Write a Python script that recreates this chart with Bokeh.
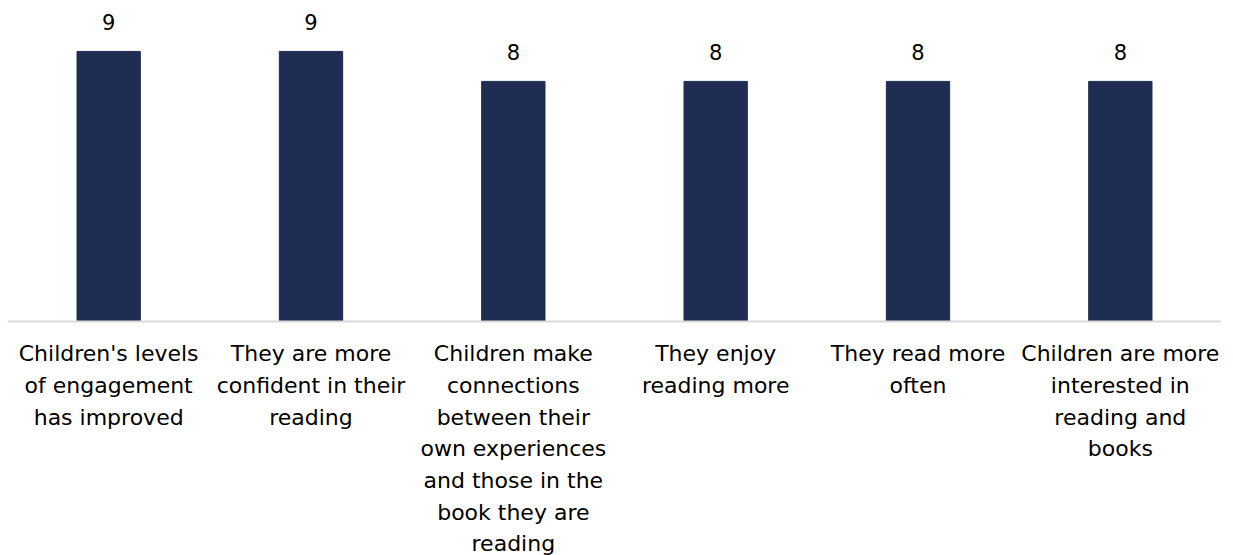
from bokeh.plotting import figure
from bokeh.models import FactorRange, Range1d, Span, ColumnDataSource
from bokeh.core.properties import value
from bokeh.embed import file_html
from bokeh.resources import INLINE

categories = [
    "Children's levels\nof engagement\nhas improved",
    "They are more\nconfident in their\nreading",
    "Children make\nconnections\nbetween their\nown experiences\nand those in the\nbook they are\nreading",
    "They enjoy\nreading more",
    "They read more\noften",
    "Children are more\ninterested in\nreading and\nbooks",
]
values = [9, 9, 8, 8, 8, 8]
value_labels = [str(v) for v in values]

src = ColumnDataSource(dict(cat=categories, val=values, lab=value_labels, zero=[0] * len(values)))

p = figure(
    x_range=FactorRange(*categories, range_padding=0),
    y_range=Range1d(-7.8, 10.43),
    width=1221, height=555,
    output_backend="svg", toolbar_location=None,
    min_border=0, min_border_left=7, min_border_right=0, min_border_top=8, min_border_bottom=0,
)
p.axis.visible = False
p.grid.visible = False
p.outline_line_color = None
p.background_fill_color = "white"
p.border_fill_color = "white"

p.vbar(x="cat", top="val", width=0.313, source=src, fill_color="#1F2D52", line_color="#1F2D52")

p.add_layout(Span(location=0, dimension="width", line_color="#D9D9D9", line_width=2))

p.text(x="cat", y="val", text="lab", source=src, text_align="center", text_baseline="middle",
       y_offset=-29, text_font=value("DejaVu Sans"), text_font_size="21px", text_color="#000000")

p.text(x="cat", y="zero", text="cat", source=src, text_align="center", text_baseline="top",
       y_offset=20, text_font=value("DejaVu Sans"), text_font_size="22px", text_color="#000000",
       text_line_height=1.265)

open("out.html", "w").write(file_html(p, INLINE))
